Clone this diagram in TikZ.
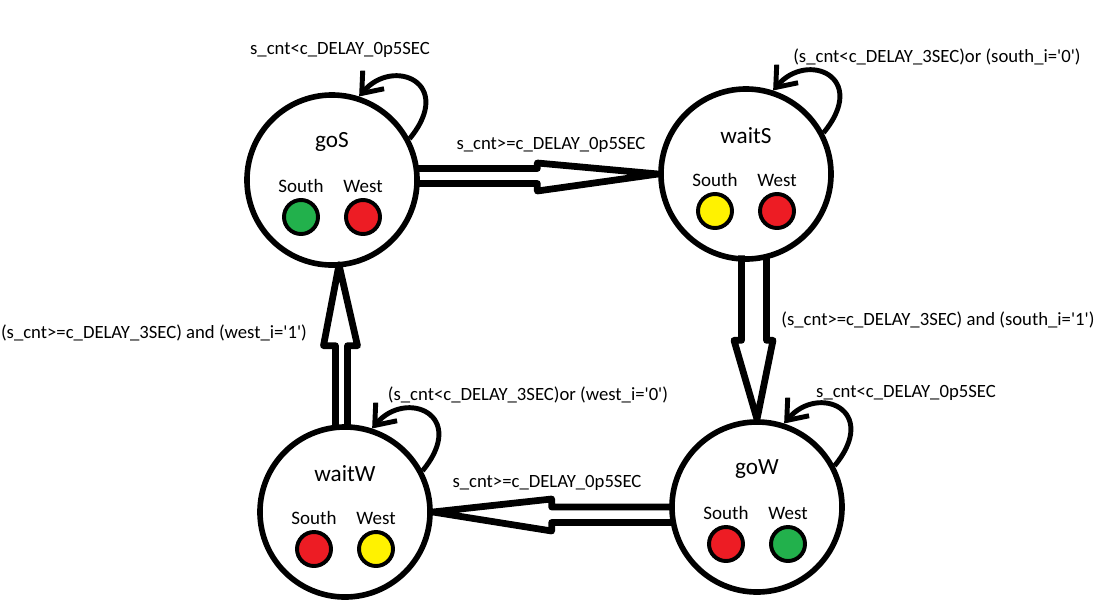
\documentclass[tikz,border=0pt]{standalone}
\usepackage{fontspec}
\setmainfont{Carlito}
\usetikzlibrary{arrows.meta,calc}

\definecolor{lampGreen}{RGB}{34,177,76}
\definecolor{lampRed}{RGB}{237,28,36}
\definecolor{lampYellow}{RGB}{255,242,0}

\newcommand{\qt}{\textquotesingle}

\begin{document}
\begin{tikzpicture}[
    x=0.025cm, y=-0.025cm,
    state/.style={circle, draw, line width=4pt, minimum size=4.25cm, inner sep=0pt},
    lamp/.style={circle, draw, line width=2.8pt, minimum size=0.85cm, inner sep=0pt},
    sname/.style={font=\fontsize{16.5}{18}\selectfont},
    lname/.style={font=\fontsize{13.5}{15}\selectfont},
    lbl/.style={font=\fontsize{13.3}{15}\selectfont},
    selfloop/.style={line width=3.5pt, -{Straight Barb[length=4.5mm,width=7mm]},
        to path={.. controls +(46,-56) and +(34,-40) .. (\tikztotarget)}},
    fat/.style={line width=4.8pt, line join=round}
]
\useasboundingbox (0,0) rectangle (1100,606);

% states
\node[state] (goS) at (332,180) {};
\node[state] (waitS) at (746,174) {};
\node[state] (goW) at (757,507) {};
\node[state] (waitW) at (345,512) {};

% goS
\node[sname] (goS-name) at ($(goS)+(0,-38)$) {goS};
\node[lname] (goS-s) at ($(goS)+(-31,6)$) {South};
\node[lname] (goS-w) at ($(goS)+(31,6)$) {West};
\node[lamp, fill=lampGreen] (goS-ls) at ($(goS)+(-31,37)$) {};
\node[lamp, fill=lampRed] (goS-lw) at ($(goS)+(31,37)$) {};

% waitS
\node[sname] (waitS-name) at ($(waitS)+(0,-38)$) {waitS};
\node[lname] (waitS-s) at ($(waitS)+(-31,6)$) {South};
\node[lname] (waitS-w) at ($(waitS)+(31,6)$) {West};
\node[lamp, fill=lampYellow] (waitS-ls) at ($(waitS)+(-31,37)$) {};
\node[lamp, fill=lampRed] (waitS-lw) at ($(waitS)+(31,37)$) {};

% goW
\node[sname] (goW-name) at ($(goW)+(0,-38)$) {goW};
\node[lname] (goW-s) at ($(goW)+(-31,6)$) {South};
\node[lname] (goW-w) at ($(goW)+(31,6)$) {West};
\node[lamp, fill=lampRed] (goW-ls) at ($(goW)+(-31,37)$) {};
\node[lamp, fill=lampGreen] (goW-lw) at ($(goW)+(31,37)$) {};

% waitW
\node[sname] (waitW-name) at ($(waitW)+(0,-38)$) {waitW};
\node[lname] (waitW-s) at ($(waitW)+(-31,6)$) {South};
\node[lname] (waitW-w) at ($(waitW)+(31,6)$) {West};
\node[lamp, fill=lampRed] (waitW-ls) at ($(waitW)+(-31,37)$) {};
\node[lamp, fill=lampYellow] (waitW-lw) at ($(waitW)+(31,37)$) {};

% self loops
\draw[selfloop] (goS.28) to (goS.72);
\draw[selfloop] (waitS.28) to (waitS.72);
\draw[selfloop] (goW.28) to (goW.72);
\draw[selfloop] (waitW.28) to (waitW.72);

% transitions (hollow arrows)
\draw[fat] ($(goS.east)+(-4.5,-11.5)$) -- ($(goS.east)+(117.5,-11.5)$)
    -- ($(goS.east)+(117.5,-17)$) -- (waitS.west)
    -- ($(goS.east)+(117.5,11)$) -- ($(goS.east)+(117.5,3.5)$)
    -- ($(goS.east)+(-4.5,3.5)$);
\draw[fat] ($(waitS.south)+(-4.5,-6.5)$) -- ($(waitS.south)+(-4.5,78.5)$)
    -- ($(waitS.south)+(-12,78.5)$) -- (goW.north)
    -- ($(waitS.south)+(27,78.5)$) -- ($(waitS.south)+(20.5,78.5)$)
    -- ($(waitS.south)+(20.5,-6.5)$);
\draw[fat] ($(goW.west)+(4.5,0)$) -- ($(goW.west)+(-117.5,0)$)
    -- ($(goW.west)+(-117.5,-8)$) -- (waitW.east)
    -- ($(goW.west)+(-117.5,24)$) -- ($(goW.west)+(-117.5,15.5)$)
    -- ($(goW.west)+(4.5,15.5)$);
\draw[fat] ($(waitW.north)+(-9.5,4.5)$) -- ($(waitW.north)+(-9.5,-78.5)$)
    -- ($(waitW.north)+(-21.5,-78.5)$) -- ($(goS.south)+(7,-3)$)
    -- ($(waitW.north)+(12.5,-78.5)$) -- ($(waitW.north)+(2.5,-78.5)$)
    -- ($(waitW.north)+(2.5,4.5)$);

% labels
\node[lbl] (goS-loop) at (340,50) {s\_cnt<c\_DELAY\_0p5SEC};
\node[lbl] (goS-waitS) at (551,145) {s\_cnt>=c\_DELAY\_0p5SEC};
\node[lbl] (waitS-loop) at (937,57) {(s\_cnt<c\_DELAY\_3SEC)or (south\_i=\qt0\qt)};
\node[lbl] (waitS-goW) at (938,320) {(s\_cnt>=c\_DELAY\_3SEC) and (south\_i=\qt1\qt)};
\node[lbl] (goW-loop) at (906,393) {s\_cnt<c\_DELAY\_0p5SEC};
\node[lbl] (waitW-goS) at (154,333) {(s\_cnt>=c\_DELAY\_3SEC) and (west\_i=\qt1\qt)};
\node[lbl] (waitW-loop) at (528,395) {(s\_cnt<c\_DELAY\_3SEC)or (west\_i=\qt0\qt)};
\node[lbl] (goW-waitW) at (547,483) {s\_cnt>=c\_DELAY\_0p5SEC};

\end{tikzpicture}
\end{document}
